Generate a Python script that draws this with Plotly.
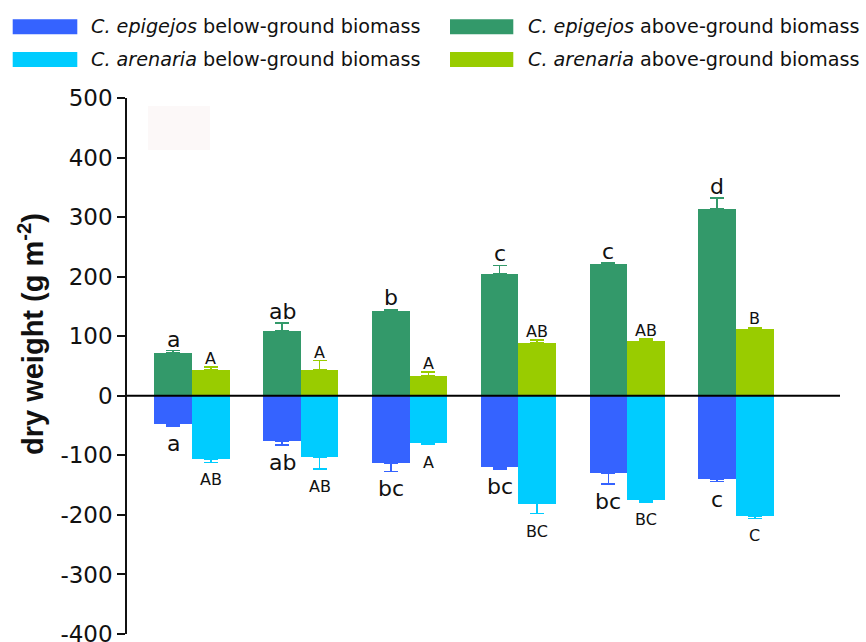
import plotly.graph_objects as go

# ---------------- data ----------------
groups = [1, 2, 3, 4, 5, 6]

epi_above = [72, 109, 143, 205, 222, 314]
epi_above_err = [4, 13, 2, 14, 1, 18]
are_above = [44, 44, 34, 89, 92, 112]
are_above_err = [4, 15, 6, 5, 3, 3]

epi_below = [-48, -76, -113, -120, -130, -140]
epi_below_err = [3, 7, 14, 3, 18, 4]
are_below = [-106, -103, -79, -181, -175, -202]
are_below_err = [6, 20, 3, 17, 3, 4]

epi_above_lbl = ["a", "ab", "b", "c", "c", "d"]
are_above_lbl = ["A", "A", "A", "AB", "AB", "B"]
epi_below_lbl = ["a", "ab", "bc", "bc", "bc", "c"]
are_below_lbl = ["AB", "AB", "A", "BC", "BC", "C"]

y_ticks = [500, 400, 300, 200, 100, 0, -100, -200, -300, -400]
y_tick_text = ["500", "400", "300", "200", "100", "0", "-100", "-200", "-300", "-400"]

series_names = [
    "<i>C. epigejos</i> below-ground biomass",
    "<i>C. epigejos</i> above-ground biomass",
    "<i>C. arenaria</i> below-ground biomass",
    "<i>C. arenaria</i> above-ground biomass",
]

# ---------------- style ----------------
C_EPI_BELOW = "#3563FF"
C_EPI_ABOVE = "#33996A"
C_ARE_BELOW = "#00CCFF"
C_ARE_ABOVE = "#99CC00"

W, H = 866, 642
L, R, T, B = 127, 840, 98, 634
BW = 0.345  # bar width in category units
XR = [0.4026, 6.956]

FONT = "DejaVu Sans"


def pxx(px):
    return (px - L) / (R - L)


def pxy(py):
    return (B - py) / (B - T)


fig = go.Figure()


def add_bar(vals, errs, color, offset, name, positive):
    if positive:
        ey = dict(type="data", array=errs, arrayminus=[0] * len(errs), symmetric=False,
                  color=color, thickness=1.5, width=7)
    else:
        ey = dict(type="data", array=[0] * len(errs), arrayminus=errs, symmetric=False,
                  color=color, thickness=1.5, width=7)
    fig.add_trace(go.Bar(x=groups, y=vals, width=BW, offset=offset, name=name,
                         marker=dict(color=color, line=dict(width=0)),
                         error_y=ey, showlegend=False, hoverinfo="skip"))


add_bar(epi_above, epi_above_err, C_EPI_ABOVE, -BW, series_names[1], True)
add_bar(are_above, are_above_err, C_ARE_ABOVE, 0, series_names[3], True)
add_bar(epi_below, epi_below_err, C_EPI_BELOW, -BW, series_names[0], False)
add_bar(are_below, are_below_err, C_ARE_BELOW, 0, series_names[2], False)

annotations = []


def add_labels(vals, errs, labels, dx, size, positive, shift):
    for g, v, e, t in zip(groups, vals, errs, labels):
        annotations.append(dict(x=g + dx, y=(v + e) if positive else (v - e), text=t,
                                showarrow=False, xref="x", yref="y",
                                yanchor="bottom" if positive else "top", yshift=shift,
                                font=dict(family=FONT, size=size, color="#111")))


add_labels(epi_above, epi_above_err, epi_above_lbl, -BW / 2, 22, True, -3)
add_labels(are_above, are_above_err, are_above_lbl, BW / 2, 16, True, -3)
add_labels(epi_below, epi_below_err, epi_below_lbl, -BW / 2, 22, False, -3)
add_labels(are_below, are_below_err, are_below_lbl, BW / 2, 16, False, -6)

# y-axis title
annotations.append(dict(x=pxx(31), y=pxy(334), xref="paper", yref="paper",
                        text="<b>dry weight (g m<sup>-2</sup>)</b>", textangle=-90,
                        showarrow=False, xanchor="center", yanchor="middle",
                        font=dict(family="Liberation Sans, Arial", size=29, color="#111")))

shapes = []
# faint box in upper left
shapes.append(dict(type="rect", xref="paper", yref="paper",
                   x0=pxx(148), x1=pxx(210), y0=pxy(150), y1=pxy(106),
                   fillcolor="#FCF8F8", line=dict(width=0), layer="below"))
# zero line
shapes.append(dict(type="line", xref="paper", yref="y", x0=0, x1=1, y0=0, y1=0,
                   line=dict(color="black", width=2), layer="above"))

# manual legend (wide swatches)
legend_items = [
    (series_names[0], C_EPI_BELOW, 12.7, 77.3, 89, 26.7),
    (series_names[2], C_ARE_BELOW, 12.7, 77.3, 89, 59.5),
    (series_names[1], C_EPI_ABOVE, 450, 513.3, 526, 26.7),
    (series_names[3], C_ARE_ABOVE, 450, 513.3, 526, 59.5),
]
for name, col, sx0, sx1, tx, cy in legend_items:
    shapes.append(dict(type="rect", xref="paper", yref="paper",
                       x0=pxx(sx0), x1=pxx(sx1), y0=pxy(cy + 7.5), y1=pxy(cy - 7.5),
                       fillcolor=col, line=dict(width=0)))
    annotations.append(dict(x=pxx(tx), y=pxy(cy), xref="paper", yref="paper", text=name,
                            showarrow=False, xanchor="left", yanchor="middle",
                            font=dict(family=FONT, size=19.2, color="#111")))

fig.update_layout(
    width=W, height=H,
    margin=dict(l=L, r=W - R, t=T, b=H - B, pad=0, autoexpand=False),
    paper_bgcolor="white", plot_bgcolor="white",
    barmode="overlay", bargap=0,
    showlegend=False,
    hovermode=False,
    annotations=annotations, shapes=shapes,
    xaxis=dict(range=XR, showticklabels=False, showgrid=False, zeroline=False,
               showline=False, ticks="", automargin=False),
    yaxis=dict(range=[-400, 500], tickvals=y_ticks, ticktext=y_tick_text,
               showgrid=False, zeroline=False, showline=True, linecolor="#111",
               linewidth=1.5, ticks="outside", ticklen=8, tickwidth=1.5, tickcolor="#111",
               ticklabeloverflow="allow", automargin=False,
               tickfont=dict(family=FONT, size=23, color="#111")),
)

page_css = (
    "document.body.style.margin='0';"
    "document.body.style.overflow='hidden';"
    "document.documentElement.style.overflow='hidden';"
)

fig.write_html("out.html", post_script=page_css, config={"displayModeBar": False})
